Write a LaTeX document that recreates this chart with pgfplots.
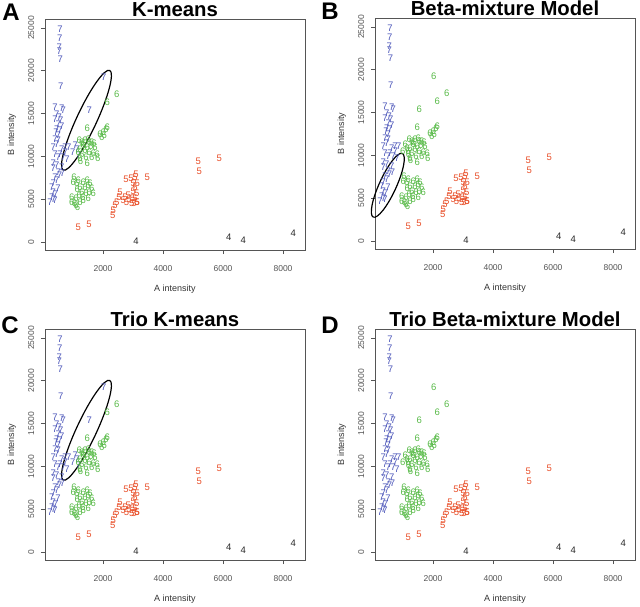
\documentclass[border=0pt]{standalone}
\usepackage{pgfplots}
\pgfplotsset{compat=1.18}
\usepackage{pgfplotstable}
\usepackage{fontspec}
\setmainfont{Liberation Sans}

\definecolor{c7}{RGB}{78,88,186}
\definecolor{c6}{RGB}{88,186,72}
\definecolor{c5}{RGB}{232,78,40}
\definecolor{c4}{RGB}{40,40,40}
\definecolor{axc}{RGB}{85,85,85}

% always cluster 7
\pgfplotstableread{
x y
570 24850
560 23800
540 22700
545 22300
580 21400
590 18150
400 15737
622 15659
678 15349
456 14962
545 14574
400 14380
589 14186
511 13721
622 13489
456 13217
567 13024
433 12830
511 12442
400 12055
511 11860
456 11473
345 11085
733 11085
622 10892
567 10310
400 10310
511 9923
678 9923
345 9148
456 8954
622 8760
345 8566
511 8178
400 7597
456 7209
345 6822
289 6434
345 5853
289 5271
400 4884
233 4690
856 11085
745 10504
800 9700
650 8000
550 7800
500 6300
420 5600
350 5000
}\tabseven

% cluster 7 in K-means, cluster 6 in Beta-mixture
\pgfplotstableread{
x y
2022 19225
1544 15430
1078 11279
1133 10892
990 10504
1180 10150
}\tabswitch

\pgfplotstableread{
x y
2456 17290
2144 16330
1478 13295
1900 12636
2011 12830
2100 13217
2144 13411
1955 12248
2044 12442
1211 11860
1289 11666
1400 11938
1511 12055
1622 11666
1345 11279
1478 11085
1589 11162
1733 11085
1233 10892
1400 10698
1545 10504
1678 10388
1811 10310
1289 10233
1433 9923
1622 9923
1826 9729
1233 9729
1478 9148
1178 10504
1350 11500
1700 11500
1550 11700
1250 9400
1033 7597
1178 7209
1345 7016
1478 7209
1567 6822
1622 6240
1545 5853
1433 5659
1289 5853
1145 6124
1211 5465
1100 5078
956 4690
1100 4303
956 5271
1233 6434
1678 5659
1511 5078
1345 4884
1233 4690
1400 6434
1122 6822
1511 6628
1011 7016
1322 5271
1150 4100
1050 4500
}\tabsix

\pgfplotstableread{
x y
1178 1780
1533 2060
3477 7600
5178 9380
5211 8290
5878 9800
2766 7286
2933 7403
3099 7907
3066 7519
3011 6899
3066 6434
3011 5969
3122 5658
3066 5077
3122 4690
2988 5077
2566 5852
2533 5271
2455 4690
2400 4302
2344 3720
2322 3139
2733 5193
2788 4690
2877 4961
2955 4496
3033 4496
2677 4883
2844 5465
3144 6821
3144 4690
}\tabfive

\pgfplotstableread{
x y
3100 150
6190 546
6677 233
8343 1010
}\tabfour

\pgfplotsset{
  panel/.style={
    width=260pt, height=231pt, scale only axis,
    xmin=67, xmax=8733, ymin=-930, ymax=26047,
    xtick={2000,4000,6000,8000},
    ytick={0,5000,10000,15000,20000,25000},
    scaled ticks=false,
    /pgf/number format/1000 sep={},
    /pgf/number format/assume math mode=true,
    tick align=outside, xtick pos=left, ytick pos=left,
    major tick length=4pt,
    axis line style={draw=axc, line width=0.8pt},
    every tick/.style={draw=axc, line width=0.7pt},
    tick label style={font=\fontsize{8.5}{9}\selectfont, text=axc},
    xticklabel style={anchor=base, yshift=-17pt},
    yticklabel style={rotate=90, anchor=base, yshift=7pt},
    xlabel={A intensity}, ylabel={B intensity},
    label style={font=\fontsize{9}{10}\selectfont, text=black!80},
    xlabel style={at={(axis description cs:0.5,-0.1775)}, anchor=base},
    ylabel style={at={(axis description cs:-0.119,0.5)}, anchor=base},
    every axis title shift=0pt,
    title style={at={(axis description cs:0.5,1.01)}, anchor=base,
                 font=\bfseries\fontsize{20.3}{21}\selectfont},
    clip=false,
  },
  num/.style 2 args={draw=none, mark=none, nodes near coords={#1},
    every node near coord/.style={anchor=center, inner sep=0pt,
      font=\fontsize{9.5}{10}\selectfont, text=#2}},
}

\newcommand\kmeansplots{%
  \addplot[num={7}{c7}] table {\tabseven};
  \addplot[num={7}{c7}] table {\tabswitch};
  \addplot[num={6}{c6}] table {\tabsix};
  \addplot[num={5}{c5}] table {\tabfive};
  \addplot[num={4}{c4}] table {\tabfour};
}
\newcommand\betaplots{%
  \addplot[num={7}{c7}] table {\tabseven};
  \addplot[num={6}{c6}] table {\tabswitch};
  \addplot[num={6}{c6}] table {\tabsix};
  \addplot[num={5}{c5}] table {\tabfive};
  \addplot[num={4}{c4}] table {\tabfour};
}

\begin{document}
\begin{tikzpicture}
\useasboundingbox (0pt,0pt) rectangle (640pt,-607pt);

% A
\begin{axis}[panel, at={(45pt,-250pt)}, anchor=south west, title={K-means}]
  \kmeansplots
  \draw[line width=1.2pt, rotate around={65:(axis cs:1450,14221)}]
    (axis cs:1450,14221) ellipse [x radius=55pt, y radius=10pt];
\end{axis}
% B
\begin{axis}[panel, at={(375pt,-249pt)}, anchor=south west, title={Beta-mixture Model}]
  \betaplots
  \draw[line width=1.2pt, rotate around={65.4:(axis cs:494,6512)}]
    (axis cs:494,6512) ellipse [x radius=35pt, y radius=8.5pt];
\end{axis}
% C
\begin{axis}[panel, at={(45pt,-560pt)}, anchor=south west, title={Trio K-means}]
  \kmeansplots
  \draw[line width=1.2pt, rotate around={65:(axis cs:1450,14221)}]
    (axis cs:1450,14221) ellipse [x radius=55pt, y radius=10pt];
\end{axis}
% D
\begin{axis}[panel, at={(375pt,-560pt)}, anchor=south west, title={Trio Beta-mixture Model}]
  \betaplots
\end{axis}

\node[font=\bfseries\fontsize{24}{24}\selectfont, anchor=base] at (11pt,-20.5pt) {A};
\node[font=\bfseries\fontsize{24}{24}\selectfont, anchor=base] at (330pt,-20pt) {B};
\node[font=\bfseries\fontsize{24}{24}\selectfont, anchor=base] at (10pt,-333pt) {C};
\node[font=\bfseries\fontsize{24}{24}\selectfont, anchor=base] at (330pt,-333pt) {D};
\end{tikzpicture}
\end{document}
